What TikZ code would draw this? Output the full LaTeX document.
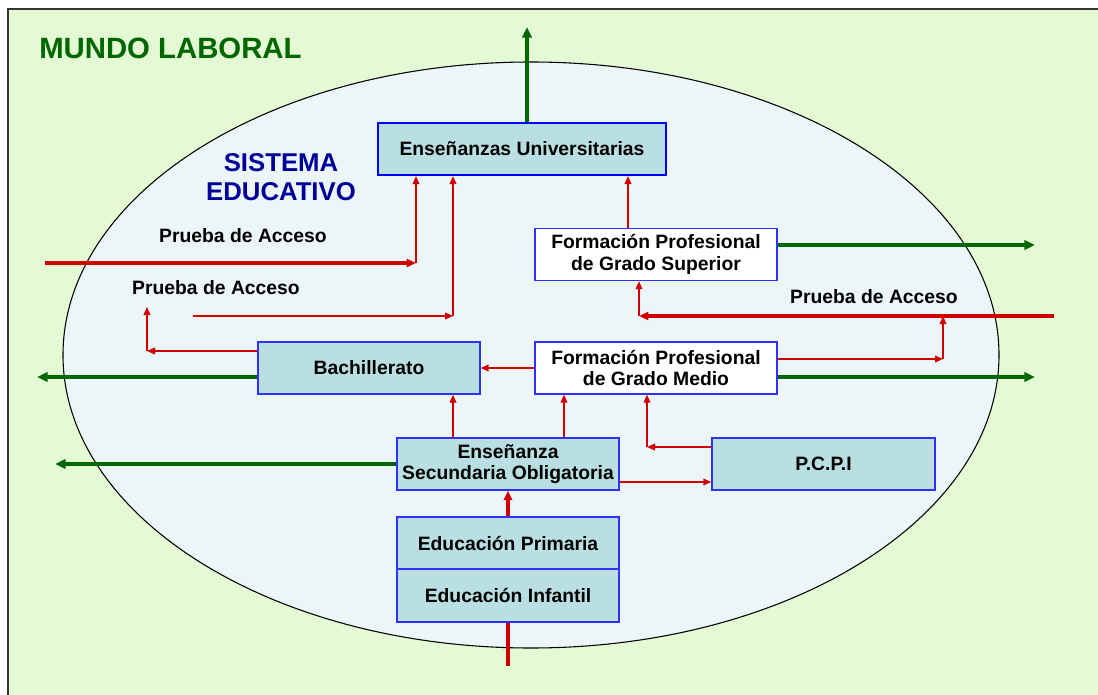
\documentclass[tikz,border=0pt]{standalone}
\usepackage{fontspec}
\setmainfont{Liberation Sans}
\usetikzlibrary{arrows.meta,positioning}
\definecolor{Mundo}{HTML}{E4FAD4}
\definecolor{Sistema}{HTML}{ECF5F7}
\definecolor{Caja}{HTML}{B9DFE2}
\definecolor{Borde}{HTML}{3030FF}
\definecolor{Rojo}{HTML}{D00000}
\definecolor{Verde}{HTML}{006600}
\definecolor{Azul}{HTML}{000099}

\begin{document}
\begin{tikzpicture}[x=0.75pt, y=-0.75pt,
    box/.style={draw=Borde, line width=1pt, fill=Caja, minimum width=166.5pt, minimum height=39pt,
      align=center, inner sep=2pt, font=\fontsize{14.5}{16}\selectfont\bfseries},
    fpbox/.style={box, fill=white, minimum width=181.5pt},
    label/.style={inner sep=0pt, font=\fontsize{14.5}{16}\selectfont\bfseries},
    paso/.style={-{Triangle[length=6pt, width=5pt]}, line width=1.1pt, draw=Rojo},
    acceso/.style={-{Triangle[length=7pt, width=6pt]}, line width=2.4pt, draw=Rojo},
    salida/.style={-{Triangle[length=8pt, width=7pt]}, line width=2.4pt, draw=Verde}
  ]
    \useasboundingbox (0,0) rectangle (1098,695);
    % fondo
    \fill[Mundo] (8,9) rectangle (1098,695);
    \draw[line width=1.5pt, color=black!80] (1098,9) -- (8,9) -- (8,695);
    \fill[Sistema] (531,355) ellipse [x radius=351pt, y radius=219.75pt];
    \draw[line width=0.8pt] (531,355) ellipse [x radius=351pt, y radius=219.75pt];

    \node[anchor=base west, inner sep=0pt, text=Verde, font=\fontsize{22}{24}\selectfont\bfseries]
      (mundo) at (39,59) {MUNDO LABORAL};
    \node[anchor=base, inner sep=0pt, align=center, text=Azul, font=\fontsize{19.3}{21}\selectfont\bfseries]
      (sistema) at (281,200) {SISTEMA\\EDUCATIVO};

    % cajas
    \node[box, line width=1.6pt, draw=blue, minimum width=216pt] (uni) at (522,149) {Enseñanzas Universitarias};
    \node[fpbox] (fpgs) at (656,254.5) {Formación Profesional\\de Grado Superior};
    \node[fpbox] (fpgm) at (656,368) {Formación Profesional\\de Grado Medio};
    \node[box] (bach) at (369,368) {Bachillerato};
    \node[box] (eso) at (508,464) {Enseñanza\\Secundaria Obligatoria};
    \node[box, minimum width=167.25pt] (pcpi) at (823.5,464) {P.C.P.I};
    \node[box] (prim) at (508,543) {Educación Primaria};
    \node[box, minimum height=39.75pt] (inf) at (508,595.5) {Educación Infantil};

    \node[label, anchor=base] (pa1) at (243,243) {Prueba de Acceso};
    \node[label, anchor=base] (pa2) at (216,294) {Prueba de Acceso};
    \node[label, anchor=base] (pa3) at (874,303) {Prueba de Acceso};

    % puntos de paso
    \coordinate (sup) at (527,27);
    \coordinate (dsup) at (1035,245);
    \coordinate (dmed) at (1035,377);
    \coordinate (ibach) at (37,377);
    \coordinate (ieso) at (55,464);
    \coordinate (in1) at (45,263);
    \coordinate (k1) at (416,263);
    \coordinate (in2) at (193,316);
    \coordinate (k2) at (453,316);
    \coordinate (in3) at (1054,316);
    \coordinate (k3) at (639,316);
    \coordinate (k4) at (943,359);
    \coordinate (k5) at (147,351);
    \coordinate (k6) at (147,307);
    \coordinate (k7) at (647,447);
    \coordinate (base) at (508,666);

    % salidas al mundo laboral
    \draw[salida] (uni.north -| sup) -- (sup);
    \draw[salida] (fpgs.east |- dsup) -- (dsup);
    \draw[salida] (fpgm.east |- dmed) -- (dmed);
    \draw[salida] (bach.west |- ibach) -- (ibach);
    \draw[salida] (eso.west |- ieso) -- (ieso);

    % accesos
    \draw[acceso] (in1) -- (k1);
    \draw[paso] (k1) -- (k1 |- uni.south);
    \draw[paso] (in2) -- (k2);
    \draw[paso] (k2) -- (k2 |- uni.south);
    \draw[paso] (fpgs.north -| 628,0) -- (uni.south -| 628,0);
    \draw[acceso] (in3) -- (k3);
    \draw[paso] (k3) -- (k3 |- fpgs.south);
    \draw[paso] (fpgm.east |- k4) -- (k4);
    \draw[paso] (k4) -- (k4 |- in3);
    \draw[paso] (fpgm.west) -- (bach.east);
    \draw[paso] (bach.west |- k5) -- (k5);
    \draw[paso] (k5) -- (k6);
    \draw[paso] (eso.north -| k2) -- (bach.south -| k2);
    \draw[paso] (eso.north -| 564,0) -- (fpgm.south -| 564,0);
    \draw[paso] (eso.east |- 0,482) -- (pcpi.west |- 0,482);
    \draw[paso] (pcpi.west |- k7) -- (k7);
    \draw[paso] (k7) -- (k7 |- fpgm.south);
    \draw[acceso] (prim.north) -- (eso.south);
    \draw[line width=2.4pt, draw=Rojo] (base) -- (inf.south);
  \end{tikzpicture}
\end{document}
